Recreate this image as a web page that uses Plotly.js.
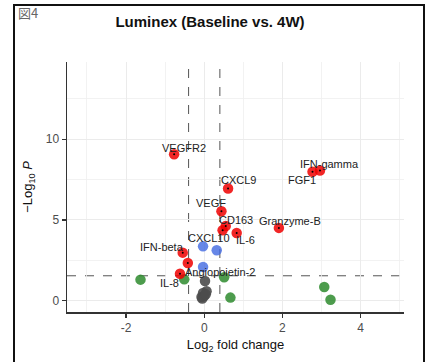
<!DOCTYPE html>
<html>
<head>
<meta charset="utf-8">
<script src="https://cdn.plot.ly/plotly-3.0.1.min.js"></script>
<style>
html,body{margin:0;padding:0;background:#fff;}
#wrap{position:relative;width:426px;height:362px;overflow:hidden;}
#chart{position:absolute;left:0;top:0;width:426px;height:362px;}
#frame{position:absolute;left:13px;top:4px;width:408px;height:370px;border:2px solid #111;pointer-events:none;}
</style>
</head>
<body>
<div id="wrap"><div id="chart"></div><div id="frame"></div></div>
<script>
// Data
const genes = ["VEGFR2","CXCL9","VEGF","CD163","CXCL10","IL-6","Granzyme-B","FGF1","IFN-gamma","IFN-beta","Angiopoietin-2","IL-8",
  "","","","","","","","","","","","","","","",""];
const log2FC = [-0.77,0.61,0.44,0.55,0.47,0.83,1.91,2.77,2.96,-0.55,-0.42,-0.62,
  -0.03,0.32,-0.03, -1.63,-0.51,0.51,0.67,3.07,3.23, 0.02,0.06,-0.03,-0.07,0.00,-0.05,0.04];
const negLog10P = [9.07,6.95,5.54,4.63,4.37,4.20,4.51,7.98,8.06,2.98,2.34,1.68,
  3.37,3.13,2.09, 1.31,1.33,1.46,0.20,0.86,0.07, 1.23,0.59,0.48,0.24,0.30,0.15,0.40];
// label offsets in pixels (dx, dy up)
const labelDX = [10,10,-10,10,-14,9,11,-11,10,-21,32,-10];
const labelDY = [6,8,8,6,-8,-7,7,-8,7,6,-9,-9];
const FCcutoff = 0.4;
const pCutoff = 1.55;
const xTickVals = [-2,0,2,4];
const yTickVals = [0,5,10];

const colNS = "rgba(77,77,77,0.9)", colFC = "rgba(46,139,46,0.85)", colP = "rgba(65,105,225,0.8)", colBoth = "rgba(238,0,0,0.85)";
const groups = {NS:{x:[],y:[],c:colNS},FC:{x:[],y:[],c:colFC},P:{x:[],y:[],c:colP},Both:{x:[],y:[],c:colBoth}};
log2FC.forEach((fc,i)=>{
  const p = negLog10P[i];
  const sigFC = Math.abs(fc) > FCcutoff, sigP = p > pCutoff;
  const g = sigFC && sigP ? "Both" : sigP ? "P" : sigFC ? "FC" : "NS";
  groups[g].x.push(fc); groups[g].y.push(p);
});
const traces = ["NS","FC","P","Both"].map(k=>({
  type:"scatter",mode:"markers",x:groups[k].x,y:groups[k].y,
  marker:{size:10.5,color:groups[k].c,line:{width:0}},hoverinfo:"skip",showlegend:false
}));
const labIdx = genes.map((g,i)=>g?i:-1).filter(i=>i>=0);
traces.push({type:"scatter",mode:"markers",x:labIdx.map(i=>log2FC[i]),y:labIdx.map(i=>negLog10P[i]),
  marker:{size:2,color:"#000"},hoverinfo:"skip",showlegend:false});

const annotations = labIdx.map(i=>({
  x:log2FC[i],y:negLog10P[i],xref:"x",yref:"y",text:genes[i],showarrow:false,
  xshift:labelDX[i],yshift:labelDY[i],font:{family:"Liberation Sans, Arial, sans-serif",size:11,color:"#222"}
}));
annotations.push({xref:"paper",yref:"paper",x:-0.15,y:1.2,xanchor:"left",yanchor:"middle",text:"図4",showarrow:false,
  font:{family:"Noto Sans CJK JP, sans-serif",size:13,color:"#666"}});

const dash = {color:"#555",width:1,dash:"dash"};
const shapes = [
  {type:"line",xref:"x",yref:"paper",x0:-FCcutoff,x1:-FCcutoff,y0:0,y1:1,line:dash,layer:"below"},
  {type:"line",xref:"x",yref:"paper",x0:FCcutoff,x1:FCcutoff,y0:0,y1:1,line:dash,layer:"below"},
  {type:"line",xref:"paper",yref:"y",x0:0,x1:1,y0:pCutoff,y1:pCutoff,line:dash,layer:"below"}
];

const axisCommon = {showline:true,linecolor:"#333",linewidth:1.5,ticks:"outside",ticklen:4,tickcolor:"#333",tickwidth:1.2,
  zeroline:false,gridcolor:"#EBEBEB",gridwidth:1,tickfont:{family:"Liberation Sans, Arial, sans-serif",size:12,color:"#4D4D4D"}};

const layout = {
  width:426,height:362,margin:{l:67,r:22,t:62,b:50},
  paper_bgcolor:"#fff",plot_bgcolor:"#fff",
  font:{family:"Liberation Sans, Arial, sans-serif"},
  title:{text:"<b>Luminex (Baseline vs. 4W)</b>",xref:"container",yref:"container",x:0.493,y:0.94,xanchor:"center",yanchor:"middle",
    font:{size:15,color:"#111",family:"Liberation Sans, Arial, sans-serif"}},
  xaxis:Object.assign({},axisCommon,{range:[-3.51,5.11],tickvals:xTickVals,ticktext:xTickVals.map(String),
    minor:{tickvals:[-3,-1,1,3,5],showgrid:true,gridcolor:"#EFEFEF",gridwidth:0.8,ticks:""},
    title:{text:"Log<sub>2</sub> fold change",standoff:6,font:{size:13,color:"#111"}}}),
  yaxis:Object.assign({},axisCommon,{range:[-0.69,14.77],tickvals:yTickVals,ticktext:yTickVals.map(String),
    minor:{tickvals:[2.5,7.5,12.5],showgrid:true,gridcolor:"#EFEFEF",gridwidth:0.8,ticks:""},
    title:{text:"\u2212Log<sub>10</sub> <i>P</i>",standoff:10,font:{size:13,color:"#111"}}}),
  shapes:shapes,annotations:annotations,showlegend:false
};
Plotly.newPlot("chart",traces,layout,{displayModeBar:false,staticPlot:true});
</script>
</body>
</html>
